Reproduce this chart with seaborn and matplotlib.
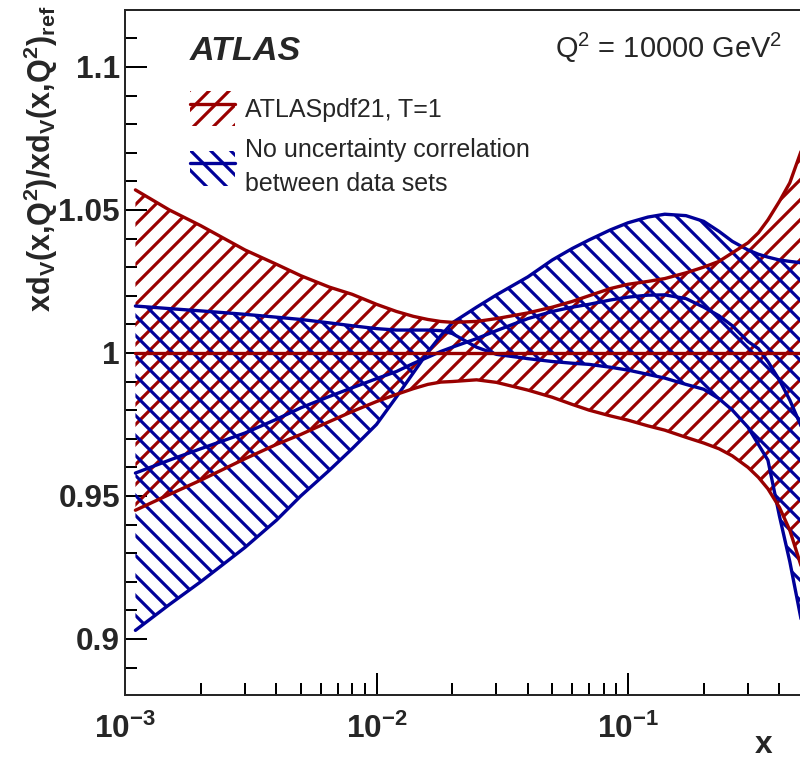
import matplotlib
matplotlib.use('Agg')
import matplotlib.pyplot as plt
from matplotlib.patches import Patch
from matplotlib.lines import Line2D
from matplotlib.ticker import LogLocator, MultipleLocator, NullFormatter
import seaborn as sns

x_vals = [0.0011, 0.0015, 0.002, 0.003, 0.004, 0.005, 0.0065, 0.008, 0.01, 0.012,
          0.014, 0.016, 0.018, 0.02, 0.025, 0.03, 0.04, 0.05, 0.06, 0.07,
          0.085, 0.1, 0.12, 0.14, 0.17, 0.2, 0.23, 0.26, 0.3, 0.33,
          0.36, 0.4, 0.44, 0.49]

# ATLASpdf21, T=1 (reference band)
ref_up = [1.057, 1.050, 1.0445, 1.036, 1.031, 1.027, 1.023, 1.0205, 1.017, 1.0145,
          1.0128, 1.0117, 1.011, 1.0107, 1.011, 1.012, 1.014, 1.016, 1.018, 1.020,
          1.0225, 1.024, 1.025, 1.026, 1.028, 1.030, 1.032, 1.035, 1.0385, 1.042,
          1.0465, 1.053, 1.0595, 1.071]
ref_down = [0.945, 0.9505, 0.9555, 0.963, 0.968, 0.9715, 0.976, 0.9795, 0.983, 0.9855,
            0.9875, 0.989, 0.9898, 0.990, 0.9906, 0.9897, 0.987, 0.9845, 0.982, 0.980,
            0.978, 0.9765, 0.9745, 0.973, 0.9705, 0.9685, 0.9665, 0.964, 0.960, 0.9565,
            0.9525, 0.946, 0.938, 0.925]
ref_central = [1.0] * len(x_vals)

# no uncertainty correlation between data sets
nocorr_edge_a = [1.0164, 1.0155, 1.0147, 1.0135, 1.0125, 1.0117, 1.0105, 1.0095, 1.0085, 1.008,
                 1.008, 1.008, 1.0078, 1.0068, 1.002, 0.9995, 0.998, 0.997, 0.9964, 0.996,
                 0.995, 0.994, 0.9925, 0.9912, 0.989, 0.9873, 0.984, 0.980, 0.974, 0.968,
                 0.9625, 0.943, 0.927, 0.906]
nocorr_edge_b = [0.903, 0.912, 0.920, 0.932, 0.9415, 0.950, 0.959, 0.9665, 0.975, 0.9846,
                 0.993, 1.0003, 1.006, 1.0105, 1.016, 1.0203, 1.0266, 1.0325, 1.0365, 1.0395,
                 1.043, 1.0455, 1.0475, 1.0485, 1.048, 1.046, 1.0425, 1.039, 1.036, 1.0345,
                 1.0335, 1.0325, 1.032, 1.0315]
nocorr_central = [0.958, 0.9625, 0.9665, 0.972, 0.9768, 0.9808, 0.9848, 0.9878, 0.991, 0.9935,
                  0.9963, 0.9985, 1.0005, 1.002, 1.005, 1.0078, 1.012, 1.0145, 1.016, 1.017,
                  1.0185, 1.0195, 1.0202, 1.0203, 1.019, 1.016, 1.013, 1.0095, 1.004, 1.0015,
                  0.997, 0.9905, 0.9835, 0.974]

labels = ['ATLASpdf21, T=1', 'No uncertainty correlation\nbetween data sets']
xtick_values = [1e-3, 1e-2, 1e-1]
xtick_labels = [r'$\mathbf{10^{-3}}$', r'$\mathbf{10^{-2}}$', r'$\mathbf{10^{-1}}$']
ytick_values = [0.9, 0.95, 1.0, 1.05, 1.1]
ytick_labels = ['0.9', '0.95', '1', '1.05', '1.1']

red = '#990000'
blue = '#000099'
line_w = 2.0

sns.set_theme(style='ticks')
plt.rcParams['font.family'] = ['Liberation Sans', 'DejaVu Sans']
plt.rcParams['mathtext.fontset'] = 'custom'
plt.rcParams['mathtext.rm'] = 'Liberation Sans'
plt.rcParams['mathtext.it'] = 'Liberation Sans:italic'
plt.rcParams['mathtext.bf'] = 'Liberation Sans:bold'
plt.rcParams['hatch.linewidth'] = 1.9
plt.rcParams['axes.linewidth'] = 1.2

fig = plt.figure(figsize=(800 / 120, 760 / 120), dpi=120)
ax = fig.add_axes([125 / 800, 65 / 760, 754.5 / 800, 685 / 760])
ax.set_xscale('log')

# hatched bands
ax.fill_between(x_vals, ref_down, ref_up, facecolor='none', edgecolor=red, hatch='//', linewidth=0)
ax.fill_between(x_vals, nocorr_edge_b, nocorr_edge_a, facecolor='none', edgecolor=blue, hatch='\\\\', linewidth=0)

# band edges and central values
for ys in [nocorr_edge_a, nocorr_edge_b, nocorr_central]:
    sns.lineplot(x=x_vals, y=ys, ax=ax, color=blue, lw=line_w, estimator=None, sort=False)
for ys in [ref_up, ref_down, ref_central]:
    sns.lineplot(x=x_vals, y=ys, ax=ax, color=red, lw=line_w, estimator=None, sort=False)

ax.set_xlim(1e-3, 1.0)
ax.set_ylim(0.8804, 1.1199)

ax.set_xticks(xtick_values, labels=xtick_labels)
ax.xaxis.set_minor_locator(LogLocator(base=10, subs=[2, 3, 4, 5, 6, 7, 8, 9]))
ax.xaxis.set_minor_formatter(NullFormatter())
ax.set_yticks(ytick_values, labels=ytick_labels)
ax.yaxis.set_minor_locator(MultipleLocator(0.01))

ax.tick_params(which='both', direction='in', top=False, right=False, width=1.2, color='black')
ax.tick_params(which='major', length=13)
ax.tick_params(which='minor', length=7)
ax.tick_params(axis='x', which='major', pad=11.5, labelsize=19)
ax.tick_params(axis='y', which='major', pad=3, labelsize=19)
for t in ax.get_yticklabels():
    t.set_fontweight('bold')

ax.set_ylabel(r'$\mathbf{xd_V(x{,}Q^2)/xd_V(x{,}Q^2)_{ref}}$', fontsize=18.4, loc='top')
ax.yaxis.set_label_coords(-0.086, 1.006)
fig.text(764 / 800, 0.0, 'x', ha='center', va='bottom', fontsize=19, fontweight='bold')

fig.text(190 / 800, 1 - 60 / 760, 'ATLAS', fontsize=20.5, fontweight='bold', fontstyle='italic', va='baseline')
fig.text(782 / 800, 1 - 58 / 760, r'Q$^{2}$ = 10000 GeV$^{2}$', fontsize=17.4, ha='right', va='baseline')

handles = [
    (Patch(facecolor='none', edgecolor=red, hatch='//', linewidth=0), Line2D([], [], color=red, lw=line_w)),
    (Patch(facecolor='none', edgecolor=blue, hatch='\\\\', linewidth=0), Line2D([], [], color=blue, lw=line_w)),
]
leg = ax.legend(handles, labels, loc='upper left', bbox_to_anchor=(190 / 800, 1 - 91 / 760),
                bbox_transform=fig.transFigure, frameon=False, fontsize=15, borderpad=0,
                borderaxespad=0, handlelength=1.8, handleheight=1.8, handletextpad=0.4,
                labelspacing=0.45)
for t in leg.get_texts():
    t.set_linespacing(1.55)

fig.savefig('out.png', dpi=120)
